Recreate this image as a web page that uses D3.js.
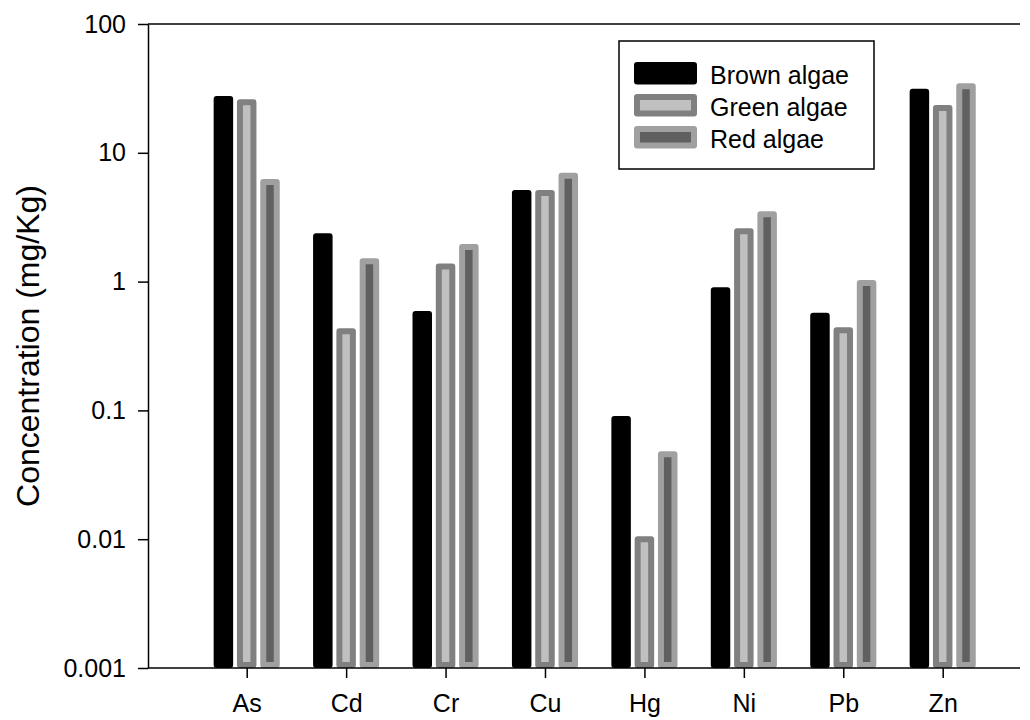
<!DOCTYPE html>
<html>
<head>
<meta charset="utf-8">
<script src="https://cdn.jsdelivr.net/npm/d3@7"></script>
<style>
  body { margin: 0; background: #fff; }
  svg { display: block; font-family: "Liberation Sans", Arial, sans-serif; }
</style>
</head>
<body>
<svg width="1030" height="720"></svg>
<script>
const metals = ["As", "Cd", "Cr", "Cu", "Hg", "Ni", "Pb", "Zn"];
const brown = [26.2, 2.25, 0.56, 4.87, 0.0857, 0.857, 0.544, 29.8];
const green = [24.7, 0.411, 1.31, 4.87, 0.010, 2.46, 0.42, 22.3];
const red = [5.93, 1.44, 1.86, 6.64, 0.0456, 3.33, 0.975, 32.8];
const seriesNames = ["Brown algae", "Green algae", "Red algae"];
const yTicks = [0.001, 0.01, 0.1, 1, 10, 100];
const yTickLabels = ["0.001", "0.01", "0.1", "1", "10", "100"];

const series = [
    { name: seriesNames[0], values: brown, fill: "#000000", stroke: "#000000" },
    { name: seriesNames[1], values: green, fill: "#c0c0c0", stroke: "#808080" },
    { name: seriesNames[2], values: red, fill: "#606060", stroke: "#a0a0a0" }
];

const svg = d3.select("svg");
const plotL = 148, plotR = 1020, plotT = 24, plotB = 668;

const y = d3.scaleLog().domain([0.001, 100]).range([plotB, plotT]);
const x = d3.scalePoint().domain(metals).range([246.7, 942.7]);
const barStep = 23.3, barW = 13.5, sw = 6;

// bars
series.forEach((s, si) => {
    svg.append("g")
        .selectAll("rect")
        .data(s.values)
        .enter()
        .append("rect")
        .attr("x", (d, i) => x(metals[i]) + (si - 1) * barStep - barW / 2)
        .attr("y", d => y(d))
        .attr("width", barW)
        .attr("height", d => plotB - sw / 2 - y(d))
        .attr("fill", s.fill)
        .attr("stroke", s.stroke)
        .attr("stroke-width", sw)
        .attr("stroke-linejoin", "round");
});

// y axis
const yAxis = svg.append("g")
    .attr("transform", `translate(${plotL},0)`)
    .call(d3.axisLeft(y).tickValues(yTicks)
        .tickFormat((d, i) => yTickLabels[i])
        .tickSize(10).tickSizeOuter(0).tickPadding(12));
yAxis.select(".domain").attr("stroke-width", 1.5);
yAxis.selectAll(".tick line").attr("stroke-width", 1.5);
yAxis.selectAll("text").attr("font-size", 25).attr("fill", "#000")
    .attr("font-family", "Liberation Sans, Arial, sans-serif");

// top line
svg.append("line")
    .attr("x1", plotL).attr("x2", plotR)
    .attr("y1", plotT).attr("y2", plotT)
    .attr("stroke", "#000").attr("stroke-width", 1.5);

// x axis
const xAxis = svg.append("g")
    .attr("transform", `translate(0,${plotB})`)
    .call(d3.axisBottom(x).tickSize(10).tickSizeOuter(0).tickPadding(16));
xAxis.select(".domain").attr("d", `M${plotL},0H${plotR}`).attr("stroke-width", 1.5);
xAxis.selectAll(".tick line").attr("stroke-width", 1.5);
xAxis.selectAll("text").attr("font-size", 25).attr("fill", "#000")
    .attr("font-family", "Liberation Sans, Arial, sans-serif");

// y title
svg.append("text")
    .attr("transform", `translate(39,${(plotT + plotB) / 2}) rotate(-90)`)
    .attr("text-anchor", "middle")
    .attr("font-size", 32)
    .text("Concentration (mg/Kg)");

// legend
const legend = svg.append("g");
legend.append("rect")
    .attr("x", 619).attr("y", 41).attr("width", 255).attr("height", 128)
    .attr("fill", "#fff").attr("stroke", "#000").attr("stroke-width", 1.5);

const item = legend.selectAll(".item")
    .data(series)
    .enter()
    .append("g")
    .attr("transform", (d, i) => `translate(0,${65 + i * 32})`);

item.append("rect")
    .attr("x", 637).attr("y", 0).attr("width", 57).attr("height", 16.5)
    .attr("fill", d => d.fill)
    .attr("stroke", d => d.stroke)
    .attr("stroke-width", sw)
    .attr("stroke-linejoin", "round");

item.append("text")
    .attr("x", 710).attr("y", 18.5)
    .attr("font-size", 25)
    .text(d => d.name);
</script>
</body>
</html>
